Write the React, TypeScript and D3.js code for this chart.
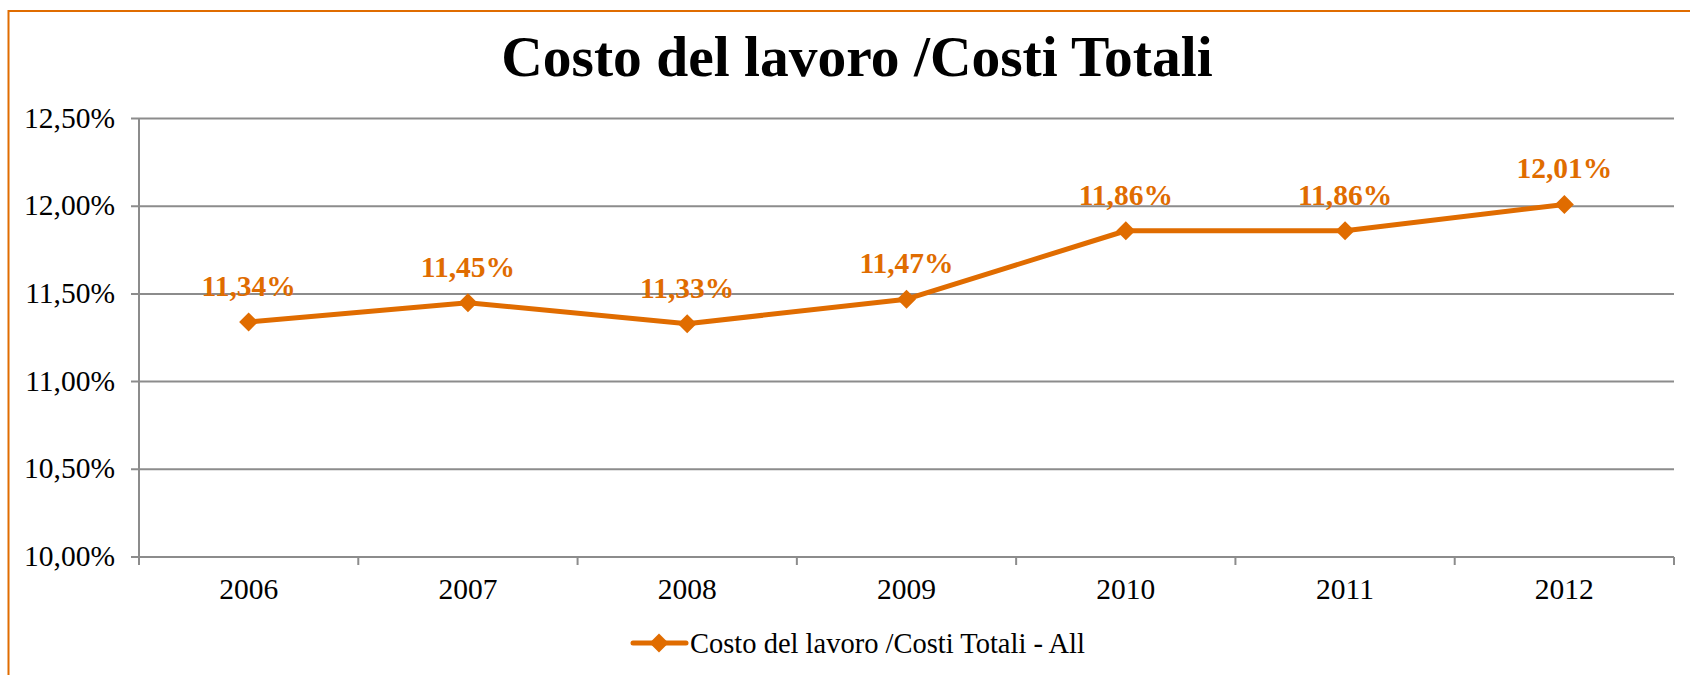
import { useEffect, useRef } from "react";
import * as d3 from "d3";

const years = ["2006", "2007", "2008", "2009", "2010", "2011", "2012"];
const values = [11.34, 11.45, 11.33, 11.47, 11.86, 11.86, 12.01];
const yTicks = [10, 10.5, 11, 11.5, 12, 12.5];
const title = "Costo del lavoro /Costi Totali";
const seriesName = "Costo del lavoro /Costi Totali - All";

const W = 1690;
const H = 675;
const orange = "#E06C00";
const grid = "#8C8C8C";
const serif = "'Liberation Serif', 'Times New Roman', serif";

const fmt = (v: number) => v.toFixed(2).replace(".", ",") + "%";

const App = () => {
  const svgRef = useRef<SVGSVGElement | null>(null);

  useEffect(() => {
    if (!svgRef.current) return;
    const svg = d3.select(svgRef.current);
    svg.selectAll("*").remove();

    const margin = { left: 139, right: W - 1674, top: 118.5, bottom: H - 557 };

    // outer frame (right and bottom run off the picture)
    svg
      .append("rect")
      .attr("x", 8.5)
      .attr("y", 11)
      .attr("width", 1800)
      .attr("height", 800)
      .attr("fill", "#fff")
      .attr("stroke", orange)
      .attr("stroke-width", 2);

    svg
      .append("text")
      .attr("x", 857)
      .attr("y", 76)
      .attr("text-anchor", "middle")
      .style("font-family", serif)
      .style("font-weight", "bold")
      .style("font-size", "57.5px")
      .text(title);

    const x = d3
      .scaleBand()
      .domain(years)
      .range([margin.left, W - margin.right]);
    const y = d3
      .scaleLinear()
      .domain([10, 12.5])
      .range([H - margin.bottom, margin.top]);

    // gridlines
    svg
      .append("g")
      .selectAll("line")
      .data(yTicks)
      .join("line")
      .attr("x1", margin.left - 8)
      .attr("x2", W - margin.right)
      .attr("y1", (d) => y(d))
      .attr("y2", (d) => y(d))
      .attr("stroke", grid)
      .attr("stroke-width", 2);

    // y axis labels
    svg
      .append("g")
      .selectAll("text")
      .data(yTicks)
      .join("text")
      .attr("x", 115)
      .attr("y", (d) => y(d) + 9)
      .attr("text-anchor", "end")
      .style("font-family", serif)
      .style("font-size", "29.5px")
      .text((d) => fmt(d));

    // y axis line
    svg
      .append("line")
      .attr("x1", margin.left)
      .attr("x2", margin.left)
      .attr("y1", y(12.5))
      .attr("y2", y(10) + 8)
      .attr("stroke", grid)
      .attr("stroke-width", 2);

    // x ticks at band edges
    const edges = years.map((d) => x(d) as number).concat([W - margin.right]);
    svg
      .append("g")
      .selectAll("line")
      .data(edges)
      .join("line")
      .attr("x1", (d) => d)
      .attr("x2", (d) => d)
      .attr("y1", y(10))
      .attr("y2", y(10) + 8)
      .attr("stroke", grid)
      .attr("stroke-width", 2);

    const cx = (d: string) => (x(d) as number) + x.bandwidth() / 2;

    svg
      .append("g")
      .selectAll("text")
      .data(years)
      .join("text")
      .attr("x", cx)
      .attr("y", 599)
      .attr("text-anchor", "middle")
      .style("font-family", serif)
      .style("font-size", "29.5px")
      .text((d) => d);

    const pts = years.map((d, i) => ({ year: d, v: values[i] }));

    const line = d3
      .line<{ year: string; v: number }>()
      .x((d) => cx(d.year))
      .y((d) => y(d.v));

    svg
      .append("path")
      .datum(pts)
      .attr("d", line)
      .attr("fill", "none")
      .attr("stroke", orange)
      .attr("stroke-width", 5)
      .attr("stroke-linejoin", "round");

    const diamond = d3.symbol().type(d3.symbolDiamond2).size(230);

    svg
      .append("g")
      .selectAll("path")
      .data(pts)
      .join("path")
      .attr("d", diamond)
      .attr("transform", (d) => `translate(${cx(d.year)},${y(d.v)})`)
      .attr("fill", orange);

    svg
      .append("g")
      .selectAll("text")
      .data(pts)
      .join("text")
      .attr("x", (d) => cx(d.year))
      .attr("y", (d) => y(d.v) - 26)
      .attr("text-anchor", "middle")
      .style("font-family", serif)
      .style("font-weight", "bold")
      .style("font-size", "29.5px")
      .attr("fill", orange)
      .text((d) => fmt(d.v));

    // legend
    const lg = svg.append("g").attr("transform", "translate(633,643)");
    lg.append("line")
      .attr("x1", 0)
      .attr("x2", 53)
      .attr("stroke", orange)
      .attr("stroke-width", 5)
      .attr("stroke-linecap", "round");
    lg.append("path")
      .attr("d", diamond)
      .attr("transform", "translate(26,0)")
      .attr("fill", orange);
    lg.append("text")
      .attr("x", 57)
      .attr("y", 10)
      .style("font-family", serif)
      .style("font-size", "28.5px")
      .text(seriesName);
  }, []);

  return (
    <div>
      <style>{"body{margin:0}"}</style>
      <svg ref={svgRef} width={W} height={H} style={{ display: "block" }}></svg>
    </div>
  );
};

export default App;
